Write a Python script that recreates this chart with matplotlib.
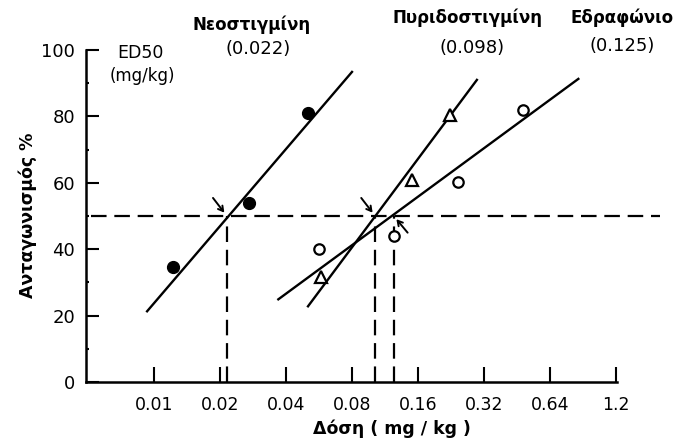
import numpy as np
import matplotlib
matplotlib.use("Agg")
import matplotlib.pyplot as plt

plt.rcParams['font.family'] = ['DejaVu Sans']

# ---- data ----
xtick_vals = [0.01, 0.02, 0.04, 0.08, 0.16, 0.32, 0.64, 1.28]
xtick_labels = ['0.01', '0.02', '0.04', '0.08', '0.16', '0.32', '0.64', '1.2']
ytick_vals = [0, 20, 40, 60, 80, 100]

neo_x = [0.0122, 0.0271, 0.0503]
neo_y = [34.5, 54, 81]
neo_fit_x = [0.0093, 0.080]
neo_fit_y = [21.3, 93.4]

pyr_x = [0.0578, 0.151, 0.224]
pyr_y = [31.5, 60.7, 80.5]
pyr_fit_x = [0.0504, 0.297]
pyr_fit_y = [22.8, 91.0]

edr_x = [0.0567, 0.124, 0.243, 0.48]
edr_y = [40, 44.1, 60.1, 82]
edr_fit_x = [0.0369, 0.862]
edr_fit_y = [24.9, 91.3]

ed50_pos = [0.0215, 0.102, 0.124]
ed50_names = ['Νεοστιγμίνη', 'Πυριδοστιγμίνη', 'Εδραφώνιο']
ed50_labels = ['(0.022)', '(0.098)', '(0.125)']

W, H = 696, 442
fig = plt.figure(figsize=(W / 100, H / 100), dpi=100)

def px2d(t):
    return 0.01 * 2 ** t

xl = (px2d((86 - 154) / 66), px2d((660 - 154) / 66))
ax = fig.add_axes([86 / W, 1 - 382 / H, (660 - 86) / W, 332 / H])
ax.set_xscale('log', base=2)
ax.set_xlim(*xl)
ax.set_ylim(0, 100)

for s in ['top', 'right']:
    ax.spines[s].set_visible(False)
ax.spines['left'].set_linewidth(1.8)
ax.spines['bottom'].set_linewidth(1.8)
ax.spines['bottom'].set_bounds(xl[0], 1.3)

ax.set_xticks(xtick_vals)
ax.set_xticklabels(xtick_labels)
ax.xaxis.set_minor_locator(matplotlib.ticker.NullLocator())
ax.set_yticks(ytick_vals)
ax.set_yticks([10, 30, 50, 70, 90], minor=True)
ax.tick_params(axis='x', direction='in', length=11, width=1.5, labelsize=12.5, pad=10)
ax.tick_params(axis='y', direction='in', length=9, width=1.5, labelsize=13, pad=8)
ax.tick_params(axis='y', which='minor', direction='in', length=2, width=1.5)

# fit lines
lw = 1.7
ax.plot(neo_fit_x, neo_fit_y, color='black', lw=lw)
ax.plot(pyr_fit_x, pyr_fit_y, color='black', lw=lw)
ax.plot(edr_fit_x, edr_fit_y, color='black', lw=lw)

# points
ax.plot(neo_x, neo_y, 'o', color='black', ms=8.5, zorder=5)
ax.plot(pyr_x, pyr_y, '^', mfc='white', mec='black', mew=1.6, ms=8, zorder=5)
ax.plot(edr_x, edr_y, 'o', mfc='white', mec='black', mew=1.6, ms=7.5, zorder=5)

# ED50 dashed lines
dash = (0, (7, 3.5))
ax.plot([xl[0] * 1.05, xl[1]], [50, 50], color='black', lw=1.6, ls=dash)
for xv in ed50_pos:
    ax.plot([xv, xv], [0, 50], color='black', lw=1.6, ls=dash)

# arrows
arrow_offsets = [(-10, 13), (-10, 13), (10, -12)]
for xv, off in zip(ed50_pos, arrow_offsets):
    ax.annotate('', xy=(xv, 50), xytext=off, textcoords='offset points',
                arrowprops=dict(arrowstyle='->,head_length=0.35,head_width=0.2',
                                lw=1.4, color='black', shrinkA=0, shrinkB=3))

# axis labels
fig.text(392 / W, 1 - 429 / H, 'Δόση ( mg / kg )', fontsize=12.5, fontweight='bold',
         ha='center', va='center')
fig.text(28 / W, 1 - 215 / H, 'Ανταγωνισμός %', rotation=90, fontsize=12.5,
         fontweight='bold', ha='center', va='center')

# annotation texts
fig.text(140 / W, 1 - 53 / H, 'ED50', fontsize=12.5, ha='center', va='center')
fig.text(142 / W, 1 - 76 / H, '(mg/kg)', fontsize=12, ha='center', va='center')
name_pos = [(252, 25), (467, 18), (622, 18)]
lab_pos = [(258, 49), (472, 48), (622, 46)]
for n, l, (nx, ny), (lx, ly) in zip(ed50_names, ed50_labels, name_pos, lab_pos):
    fig.text(nx / W, 1 - ny / H, n, fontsize=12, fontweight='bold', ha='center', va='center')
    fig.text(lx / W, 1 - ly / H, l, fontsize=13, ha='center', va='center')

fig.savefig('out.png', dpi=100)
